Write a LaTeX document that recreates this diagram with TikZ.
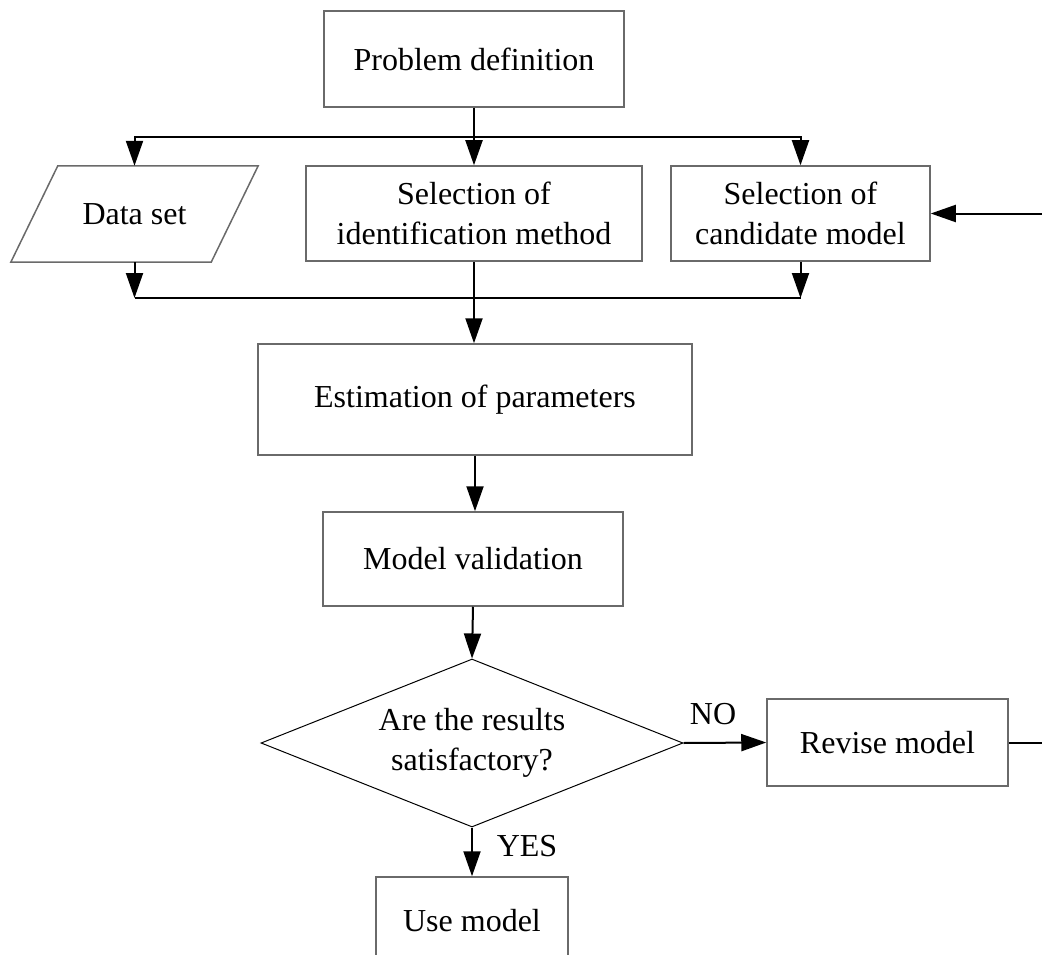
\documentclass[tikz,border=0pt]{standalone}
\usepackage{fontspec}
\setmainfont{Liberation Serif}
\usetikzlibrary{arrows.meta,shapes.geometric}
\definecolor{boxline}{HTML}{6A6A6A}
\begin{document}
\begin{tikzpicture}[x=1pt,y=-1pt,
  font=\fontsize{32}{40}\selectfont,
  box/.style={draw=boxline,line width=1.5pt,fill=white,inner sep=0pt,align=center},
  plain/.style={inner sep=0pt,align=center},
  dbox/.style={draw=black,line width=1pt,inner sep=0pt,align=center,diamond,shape aspect=2.5},
  outline/.style={draw=boxline,line width=1.5pt},
  link/.style={draw=black,line width=2pt},
  arr/.style={link,-{Triangle[length=25pt,width=17pt]}},
  lbl/.style={inner sep=0pt}]
\useasboundingbox (0,0) rectangle (1042,955);
\clip (0,0) rectangle (1042,955);

% process steps
\node[box,minimum width=300pt,minimum height=96pt] (pd) at (474,59) {Problem definition};
\node[plain,minimum width=200pt,minimum height=96pt] (ds) at (134.5,214) {Data set};
\draw[outline] ([xshift=23.5pt]ds.north west) -- ([xshift=23.5pt]ds.north east)
  -- ([xshift=-23.5pt]ds.south east) -- ([xshift=-23.5pt]ds.south west) -- cycle;
\node[box,minimum width=336pt,minimum height=95pt] (si) at (474,213.5) {Selection of\\identification method};
\node[box,minimum width=259pt,minimum height=95pt] (sc) at (800.5,213.5) {Selection of\\candidate model};
\node[box,minimum width=434pt,minimum height=111pt] (ep) at (475,399.5) {Estimation of parameters};
\node[box,minimum width=300pt,minimum height=94pt] (mv) at (473,559) {Model validation};
\node[dbox,minimum width=422pt,minimum height=168pt] (dm) at (472,743) {Are the results\\satisfactory?};
\node[box,minimum width=241pt,minimum height=87pt] (rm) at (887.5,742.5) {Revise model};
\node[box,minimum width=192pt,minimum height=87pt] (um) at (472,920.5) {Use model};

% distribution bus below the problem definition
\coordinate (bus1) at (474,137);
\draw[link] (pd.south) -- (bus1);
\draw[arr] (bus1) -| (ds.north);
\draw[arr] (bus1) -- (si.north);
\draw[arr] (bus1) -| (sc.north);

% collecting bus above the estimation step
\coordinate (bus2) at (474,298);
\draw[arr] (ds.south) -- (ds.south |- bus2);
\draw[arr] (sc.south) -- (sc.south |- bus2);
\draw[link] (ds.south |- bus2) -- (sc.south |- bus2);
\draw[link] (si.south) -- (bus2);
\draw[arr] (bus2) -- (bus2 |- ep.north);

% main sequence
\draw[arr] (ep.south) -- (ep.south |- mv.north);
\draw[arr] (mv.south) -- (dm.north);
\draw[arr] (dm.east) -- (rm.west);
\node[lbl] (no) at (713,714) {NO};
\draw[arr] (dm.south) -- (um.north);
\node[lbl] (yes) at (527,846) {YES};

% feedback loop from the revision back to the model choice
\coordinate (rt) at (1062,742.5);
\draw[arr] (rm.east) -- (rt) |- (sc.east);
\end{tikzpicture}
\end{document}
